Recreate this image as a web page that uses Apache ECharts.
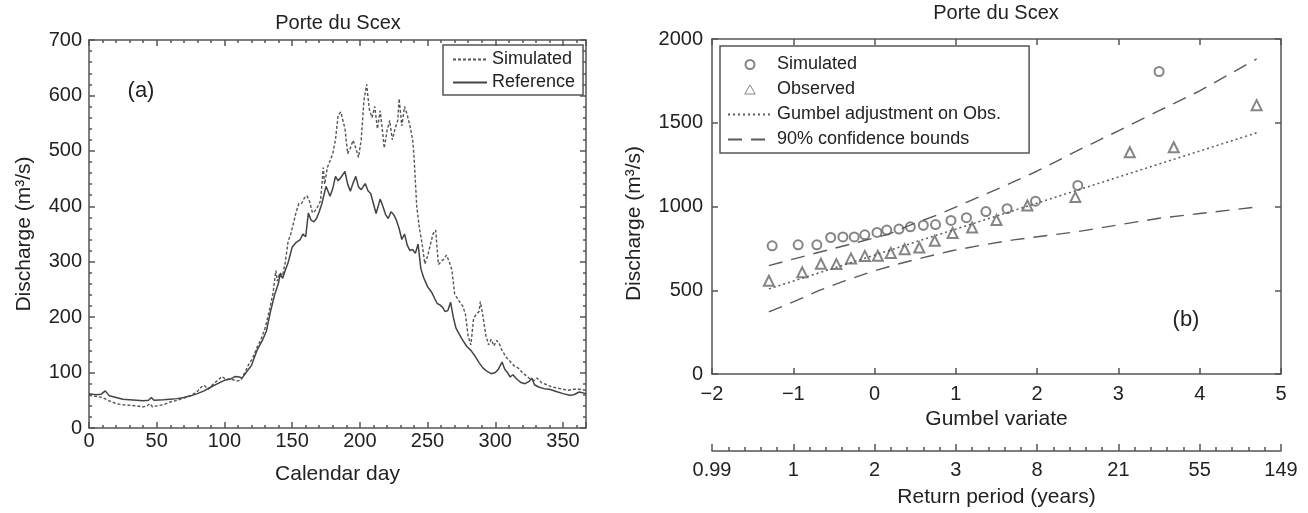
<!DOCTYPE html>
<html><head><meta charset="utf-8">
<script src="https://cdn.jsdelivr.net/npm/echarts@6/dist/echarts.min.js"></script>
<style>html,body{margin:0;padding:0;background:#fff}#c{width:1308px;height:513px}</style>
</head><body><div id="c"></div>
<script>
// ---- Panel (a): daily discharge ----
const refDays = [0,5,9,12,15,20,25,30,35,40,44,46,48,55,60,65,70,75,80,85,90,95,100,105,108,111,113,116,120,124,128,131,134,137,140,141,143,145,147,150,153,156,158,160,162,164,166,168,170,172,175,178,180,182,184,186,189,191,193,195,197,199,201,204,206,208,210,212,215,217,219,221,223,225,227,229,231,233,235,237,239,241,243,245,247,250,253,255,257,259,261,263,265,267,269,271,275,279,282,285,288,291,294,297,300,302,305,307,309,311,313,316,319,322,325,327,329,332,336,340,345,350,355,358,362,367];
const refValues = [62,60,61,67,58,55,52,51,50,49,50,55,50,51,52,53,55,58,62,67,74,80,86,89,93,92,90,100,113,140,158,175,210,240,262,278,270,285,298,326,335,340,350,345,388,375,372,378,390,405,436,418,432,454,446,452,463,440,427,442,454,435,430,441,428,423,405,387,413,400,385,378,390,385,375,360,340,350,330,320,322,315,332,288,272,255,245,235,225,222,218,210,212,227,200,180,162,147,140,130,118,108,102,98,100,105,119,106,100,92,96,88,82,80,84,90,78,74,71,70,66,62,59,60,65,62];
const simDays = [0,5,10,15,20,25,30,35,40,43,45,47,50,55,60,65,70,75,80,83,85,88,92,96,98,101,105,109,112,115,118,121,124,127,130,133,136,138,139,141,143,145,147,149,151,153,155,157,159,161,163,165,167,169,171,173,174,176,178,180,182,184,186,187,189,191,193,195,197,199,201,203,205,207,209,211,213,215,217,218,220,222,224,226,228,229,231,233,235,237,239,240,242,244,246,248,250,252,254,256,258,260,262,264,266,268,270,273,276,278,280,282,284,286,288,289,291,293,295,297,299,301,303,305,308,311,314,317,320,323,326,329,331,334,338,342,346,350,354,358,362,367];
const simValues = [59,57,55,49,44,42,41,40,38,40,44,38,40,42,47,50,54,58,66,74,77,70,80,88,93,88,88,85,86,100,115,127,145,160,180,210,245,284,265,280,275,300,336,350,370,390,405,405,415,419,408,388,392,400,410,470,440,470,482,495,520,565,570,572,540,495,505,519,505,488,520,590,620,575,560,580,540,572,530,505,535,555,520,540,555,594,545,580,565,545,520,490,400,360,332,296,310,330,350,357,295,300,305,312,300,285,242,230,220,205,165,150,198,205,210,228,200,168,150,160,148,158,152,140,128,120,112,108,100,94,88,86,90,82,78,74,72,70,68,70,70,68];

// ---- Panel (b): annual maxima vs Gumbel variate ----
const simG = [-1.26,-0.94,-0.71,-0.54,-0.39,-0.25,-0.12,0.03,0.15,0.30,0.44,0.60,0.75,0.94,1.13,1.37,1.63,1.98,2.50,3.50];
const simQ = [765,771,771,815,818,818,831,845,859,865,879,888,892,917,933,970,987,1032,1126,1806];
const obsG = [-1.30,-0.89,-0.66,-0.47,-0.29,-0.12,0.04,0.20,0.37,0.55,0.74,0.96,1.20,1.50,1.88,2.47,3.14,3.68,4.70];
const obsQ = [557,607,658,656,690,705,706,722,745,755,795,842,874,919,1006,1056,1324,1354,1605];
const fitG = [-1.30,4.70];
const fitQ = [508,1440];
const upperG = [-1.30,-0.80,-0.30,0.17,0.46,0.79,1.16,1.57,1.99,2.49,3.00,3.50,4.00,4.70];
const upperQ = [647,712,775,834,893,953,1031,1116,1209,1332,1452,1572,1690,1881];
const lowerG = [-1.30,-1.00,-0.68,-0.36,-0.04,0.29,0.61,0.95,1.34,1.71,2.50,3.00,3.50,4.00,4.70];
const lowerQ = [371,430,499,558,610,657,696,736,771,801,850,890,930,958,997];
const returnPeriodLabels = ['0.99','1','2','3','8','21','55','149'];

const zip = (a, b) => a.map((v, i) => [v, b[i]]);
const FONT = "'Liberation Sans', Arial, Helvetica, sans-serif";
const AX = '#555';
const TXT = '#222';
const LW = 1.5;
const lab = (o) => Object.assign({show: true, color: TXT, fontSize: 20, fontFamily: FONT}, o || {});
const nameStyle = (o) => Object.assign({color: TXT, fontSize: 21, fontFamily: FONT}, o || {});
const line = (show) => ({show: show, onZero: false, lineStyle: {color: AX, width: LW}});
const tick = (len) => ({show: true, inside: true, length: len, lineStyle: {color: AX, width: LW}});
const minor = (len) => ({show: true, splitNumber: 5, length: len, lineStyle: {color: AX, width: LW}});
const plain = (v) => String(v);
const minus = (v) => String(v).replace('-', '\u2212');
const TRI = 'path://M5,0 L10,8.66 L0,8.66 Z';

const option = {
  animation: false,
  backgroundColor: '#fff',
  textStyle: {fontFamily: FONT},
  grid: [
    {left: 89, top: 40, width: 497, height: 388},
    {left: 712, top: 39, width: 569, height: 336}
  ],
  xAxis: [
    {gridIndex: 0, type: 'value', position: 'bottom', min: 0, max: 367, interval: 50,
     axisLine: line(true), axisTick: tick(6), splitLine: {show: false},
     axisLabel: lab({margin: 3, formatter: v => (v % 50 === 0 ? String(v) : '')}),
     name: 'Calendar day', nameLocation: 'middle', nameGap: 36, nameTextStyle: nameStyle()},
    {gridIndex: 0, type: 'value', position: 'bottom', min: 0, max: 367, interval: 10,
     axisLine: line(false), axisTick: tick(3), splitLine: {show: false}, axisLabel: {show: false}},
    {gridIndex: 0, type: 'value', position: 'top', min: 0, max: 367, interval: 50,
     axisLine: line(true), axisTick: tick(6), splitLine: {show: false}, axisLabel: {show: false}},
    {gridIndex: 0, type: 'value', position: 'top', min: 0, max: 367, interval: 10,
     axisLine: line(false), axisTick: tick(3), splitLine: {show: false}, axisLabel: {show: false}},
    {gridIndex: 1, type: 'value', position: 'bottom', min: -2, max: 5, interval: 1,
     axisLine: line(true), axisTick: tick(6), splitLine: {show: false},
     axisLabel: lab({margin: 10, formatter: minus}),
     name: 'Gumbel variate', nameLocation: 'middle', nameGap: 35, nameTextStyle: nameStyle()},
    {gridIndex: 1, type: 'value', position: 'top', min: -2, max: 5, interval: 1,
     axisLine: line(true), axisTick: tick(6), splitLine: {show: false}, axisLabel: {show: false}},
    {gridIndex: 1, type: 'value', position: 'bottom', offset: 77, min: -2, max: 5, interval: 1,
     axisLine: line(true), axisTick: tick(7), minorTick: minor(4), splitLine: {show: false},
     axisLabel: lab({margin: 9, formatter: v => returnPeriodLabels[Math.round(v) + 2]}),
     name: 'Return period (years)', nameLocation: 'middle', nameGap: 36, nameTextStyle: nameStyle()}
  ],
  yAxis: [
    {gridIndex: 0, type: 'value', position: 'left', min: 0, max: 700, interval: 100,
     axisLine: line(true), axisTick: tick(6), minorTick: minor(3), splitLine: {show: false},
     axisLabel: lab({margin: 7, formatter: plain}),
     name: 'Discharge (m\u00b3/s)', nameLocation: 'middle', nameGap: 54, nameRotate: 90,
     nameTextStyle: nameStyle()},
    {gridIndex: 0, type: 'value', position: 'right', min: 0, max: 700, interval: 100,
     axisLine: line(true), axisTick: tick(6), minorTick: minor(3), splitLine: {show: false},
     axisLabel: {show: false}},
    {gridIndex: 1, type: 'value', position: 'left', min: 0, max: 2000, interval: 500,
     axisLine: line(true), axisTick: tick(6), splitLine: {show: false},
     axisLabel: lab({margin: 9, formatter: plain}),
     name: 'Discharge (m\u00b3/s)', nameLocation: 'middle', nameGap: 67, nameRotate: 90,
     nameTextStyle: nameStyle({padding: [0, 34, 0, 0]})},
    {gridIndex: 1, type: 'value', position: 'right', min: 0, max: 2000, interval: 500,
     axisLine: line(true), axisTick: tick(6), splitLine: {show: false}, axisLabel: {show: false}}
  ],
  legend: [
    {data: [{name: 'Simulated', itemStyle: {opacity: 0}}, {name: 'Reference', itemStyle: {opacity: 0}}],
     orient: 'vertical', left: 443, top: 45,
     itemWidth: 34, itemHeight: 10, itemGap: 2, padding: [4, 8, 2, 9],
     borderColor: '#555', borderWidth: 1.5, borderRadius: 0, selectedMode: false,
     textStyle: {color: TXT, fontSize: 18, fontFamily: FONT, lineHeight: 21}},
    {data: [
       {name: 'Simulated (b)'},
       {name: 'Observed', icon: TRI, itemStyle: {color: '#fff', borderColor: '#666', borderWidth: 1}},
       {name: 'Gumbel adjustment on Obs.', itemStyle: {opacity: 0}},
       {name: '90% confidence bounds', itemStyle: {opacity: 0}}],
     orient: 'vertical', left: 720, top: 46,
     itemWidth: 44, itemHeight: 9, itemGap: 4, padding: [8, 28, 3, 7],
     borderColor: '#555', borderWidth: 1.5, borderRadius: 0, selectedMode: false,
     formatter: n => n.replace(' (b)', ''),
     textStyle: {color: TXT, fontSize: 18, fontFamily: FONT, lineHeight: 21}}
  ],
  graphic: [
    {type: 'text', x: 338, y: 23, style: {text: 'Porte du Scex', fontSize: 20, fontFamily: FONT, fill: TXT, align: 'center', verticalAlign: 'middle'}},
    {type: 'text', x: 996, y: 13, style: {text: 'Porte du Scex', fontSize: 20, fontFamily: FONT, fill: TXT, align: 'center', verticalAlign: 'middle'}},
    {type: 'text', x: 141, y: 91, style: {text: '(a)', fontSize: 22, fontFamily: FONT, fill: TXT, align: 'center', verticalAlign: 'middle'}},
    {type: 'text', x: 1186, y: 320, style: {text: '(b)', fontSize: 22, fontFamily: FONT, fill: TXT, align: 'center', verticalAlign: 'middle'}}
  ],
  series: [
    {name: 'Simulated', type: 'line', xAxisIndex: 0, yAxisIndex: 0, symbol: 'none',
     data: zip(simDays, simValues), lineStyle: {color: '#555', width: 1.4, type: [3, 2]}, itemStyle: {color: '#555'}},
    {name: 'Reference', type: 'line', xAxisIndex: 0, yAxisIndex: 0, symbol: 'none',
     data: zip(refDays, refValues), lineStyle: {color: '#444', width: 1.5}, itemStyle: {color: '#444'}},
    {name: '90% confidence bounds', type: 'line', xAxisIndex: 4, yAxisIndex: 2, symbol: 'none',
     data: zip(upperG, upperQ), lineStyle: {color: '#5a5a5a', width: 1.4, type: [14, 9]}, itemStyle: {color: '#5a5a5a'}},
    {name: '90% confidence bounds', type: 'line', xAxisIndex: 4, yAxisIndex: 2, symbol: 'none',
     data: zip(lowerG, lowerQ), lineStyle: {color: '#5a5a5a', width: 1.4, type: [14, 9]}, itemStyle: {color: '#5a5a5a'}},
    {name: 'Gumbel adjustment on Obs.', type: 'line', xAxisIndex: 4, yAxisIndex: 2, symbol: 'none',
     data: zip(fitG, fitQ), lineStyle: {color: '#5a5a5a', width: 1.5, type: [2, 3]}, itemStyle: {color: '#5a5a5a'}},
    {name: 'Simulated (b)', type: 'scatter', xAxisIndex: 4, yAxisIndex: 2, symbol: 'emptyCircle', symbolSize: 9,
     data: zip(simG, simQ), itemStyle: {color: '#666', borderWidth: 1.1}},
    {name: 'Observed', type: 'scatter', xAxisIndex: 4, yAxisIndex: 2, symbol: 'emptyTriangle', symbolSize: 10,
     data: zip(obsG, obsQ), itemStyle: {color: '#666', borderWidth: 1.1}}
  ]
};
const chart = echarts.init(document.getElementById('c'), null, {renderer: 'canvas'});
chart.setOption(option);
</script>
</body></html>
